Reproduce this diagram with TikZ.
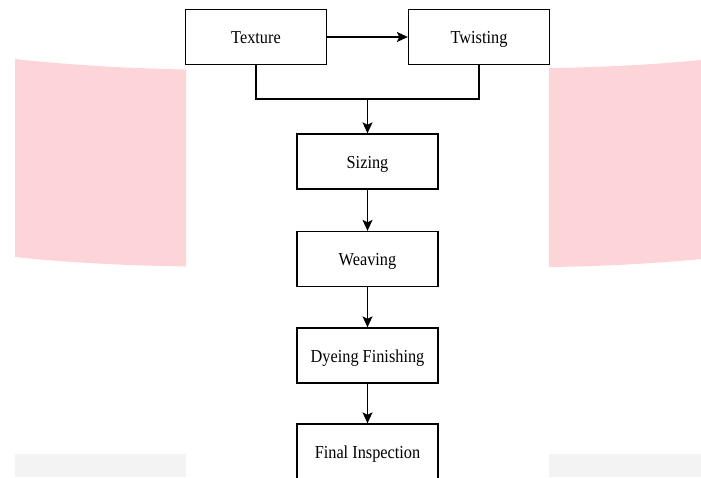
\documentclass[tikz,border=0pt]{standalone}
\usepackage{fontspec}
\setmainfont{Liberation Serif}
\usetikzlibrary{arrows.meta}
\definecolor{bgpink}{RGB}{253,212,215}
\definecolor{bggray}{RGB}{243,243,243}
\tikzset{
  stepbox/.style={draw=black, line width=1.3pt, fill=white, minimum width=141pt, minimum height=55pt, inner sep=0pt, text height=14pt, text depth=1pt, font=\fontsize{16.3}{19}\selectfont},
  conn/.style={line width=1.3pt},
  arr/.style={conn, -{Stealth[length=11pt,width=10pt,inset=2.5pt]}}
}
\begin{document}
\begin{tikzpicture}[x=1pt,y=-1pt]
\useasboundingbox (0,0) rectangle (701,477);
\clip (0,0) rectangle (701,477);
% background decoration
\fill[bgpink] (15,59) .. controls (70,65) and (130,68.5) .. (186,69.5) -- (186,266.5) .. controls (130,265.5) and (70,263) .. (15,257) -- cycle;
\fill[bgpink] (549,68) .. controls (600,67.5) and (655,64.5) .. (701,60) -- (701,259) .. controls (655,263.5) and (600,266.5) .. (549,267) -- cycle;
\fill[bggray] (15,454) rectangle (186,477);
\fill[bggray] (549,454) rectangle (701,477);
% nodes
\node[stepbox] (tex) at (256,37) {\scalebox{1}[1.12]{Texture}};
\node[stepbox] (tw) at (479,37) {\scalebox{1}[1.12]{Twisting}};
\node[stepbox] (siz) at (367.5,161.5) {\scalebox{1}[1.12]{Sizing}};
\node[stepbox] (wea) at (367.5,259) {\scalebox{1}[1.12]{Weaving}};
\node[stepbox] (dye) at (367.5,355.5) {\scalebox{1}[1.12]{Dyeing Finishing}};
\node[stepbox, minimum height=56pt] (fin) at (367.5,452) {\scalebox{1}[1.12]{Final Inspection}};
\coordinate (m) at (367.5,99);
% connectors
\draw[arr] (tex.east) -- (tw.west);
\draw[conn] (tex.south) |- (m);
\draw[conn] (tw.south) |- (m);
\draw[arr] (m) -- (siz.north);
\draw[arr] (siz.south) -- (wea.north);
\draw[arr] (wea.south) -- (dye.north);
\draw[arr] (dye.south) -- (fin.north);
\end{tikzpicture}
\end{document}
